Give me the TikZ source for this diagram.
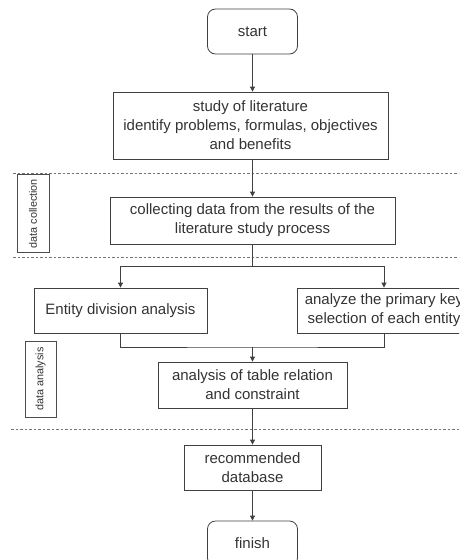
\documentclass[tikz,border=0pt]{standalone}
\usepackage{fontspec}
\setmainfont{Liberation Sans}
\usetikzlibrary{arrows.meta}

\begin{document}
\begin{tikzpicture}[x=1pt, y=-1pt,
	every node/.style={text=black!80, font=\fontsize{15}{19}\selectfont},
	process/.style={draw=black!75, line width=0.8pt, rectangle, align=center, inner sep=3pt},
	terminal/.style={process, rounded corners=8pt, minimum width=90, minimum height=45},
	phase/.style={draw=black!70, line width=0.8pt, rectangle, rotate=90, inner sep=2pt,
		font=\fontsize{10.8}{13}\selectfont},
	arr/.style={draw=black!75, line width=0.8pt, -{Triangle[length=5pt,width=5pt]}},
	link/.style={draw=black!75, line width=0.8pt},
	separator/.style={draw=black!55, line width=0.6pt, dash pattern=on 2.5pt off 2pt}]
	\clip (0,0) rectangle (459,560);
	
	% Phase separators
	\draw[separator] (13,173) -- (459,173);
	\draw[separator] (13,257) -- (459,257);
	\draw[separator] (11,429) -- (459,429);
	
	% Phase labels
	\node[phase, minimum width=78, minimum height=32] (collabel) at (33,213.5) {data collection};
	\node[phase, minimum width=76, minimum height=31] (analabel) at (40.5,379) {data analysis};
	
	% Steps
	\node[terminal] (start) at (252.5,31.5) {start};
	\node[process, minimum width=275, minimum height=67] (study) at (250.5,125.5)
		{study of literature\\identify problems, formulas, objectives\\and benefits};
	\node[process, minimum width=285, minimum height=47] (collect) at (252.5,220.5)
		{collecting data from the results of the\\literature study process};
	\node[process, minimum width=173, minimum height=45] (entity) at (120.5,310.5)
		{Entity division analysis};
	\node[process, minimum width=174, minimum height=45] (primkey) at (384,310.5)
		{analyze the primary key\\selection of each entity};
	\node[process, minimum width=189, minimum height=46] (relation) at (252.5,385)
		{analysis of table relation\\and constraint};
	\node[process, minimum width=137, minimum height=45] (recommend) at (252.5,467.5)
		{recommended\\database};
	\node[terminal] (finish) at (252.5,543.5) {finish};
	
	% Flow
	\draw[arr] (start.south) -- (start.south |- study.north);
	\draw[arr] (collect.north |- study.south) -- (collect.north);
	\coordinate (split) at (252.5,266);
	\draw[link] (collect.south) -- (split);
	\draw[arr] (split) -| (entity.north);
	\draw[arr] (split) -| (primkey.north);
	\coordinate (join) at (252.5,347);
	\draw[link] (entity.south) |- (join) -| (primkey.south);
	\draw[arr] (join) -- (relation.north);
	\draw[arr] (relation.south) -- (recommend.north);
	\draw[arr] (recommend.south) -- (finish.north);
\end{tikzpicture}
\end{document}
